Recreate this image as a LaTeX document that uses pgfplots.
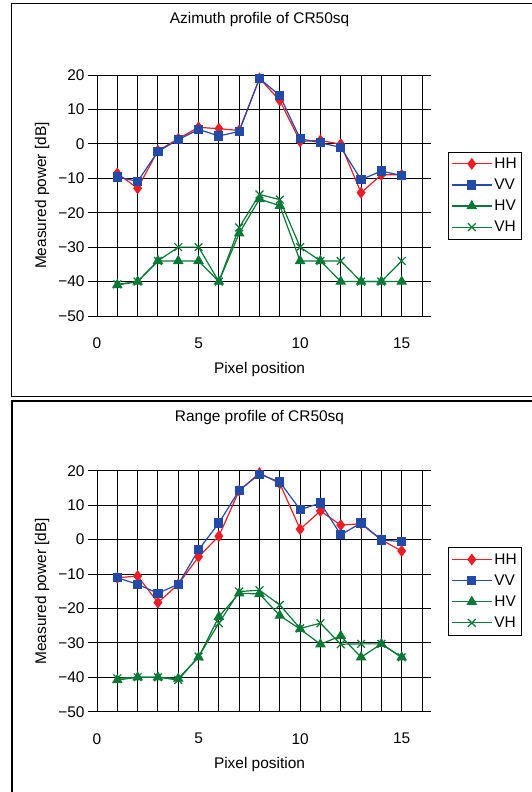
\documentclass[border=0pt]{standalone}
\usepackage{fontspec}
\setmainfont{Liberation Sans}
\usepackage{pgfplots}
\pgfplotsset{compat=1.18}

\definecolor{cHH}{RGB}{235,30,40}
\definecolor{cVV}{RGB}{35,75,165}
\definecolor{cHV}{RGB}{10,120,55}
\newcommand\fsz{\fontsize{15.5}{17.5}\selectfont}

\pgfplotsset{
  panel/.style={
    scale only axis, width=325bp, height=241bp,
    xmin=0, xmax=16, ymin=-50, ymax=20,
    xtick={0,5,10,15}, xticklabels={0,5,10,15},
    minor xtick={0,...,16},
    ytick={-50,-40,...,20},
    yticklabels={−50,−40,−30,−20,−10,0,10,20},
    grid=both,
    major grid style={black, line width=0.9bp},
    minor grid style={black, line width=0.9bp},
    axis line style={black, line width=0.9bp},
    tick align=outside, major tick length=9bp,
    ytick style={black, line width=0.9bp},
    xtick style={draw=none},
    tick label style={font=\fsz},
    xticklabel style={yshift=-9bp},
    label style={font=\fsz},
    title style={font=\fsz, anchor=center},
    xlabel={Pixel position},
    ylabel={Measured power [dB]},
    xlabel style={at={(axis description cs:0.5,-0.224)}, anchor=center},
    ylabel style={at={(axis description cs:-0.169,0.5)}, anchor=center},
    legend style={at={(1.08,0.5)}, anchor=west, draw=black, font=\fsz,
      row sep=5bp, inner xsep=3bp, inner ysep=4bp, cells={anchor=west}},
    legend image code/.code={\draw[mark repeat=2,mark phase=2] plot coordinates {(0bp,0bp) (20bp,0bp) (40bp,0bp)};},
  },
  sHH/.style={color=cHH, line width=1.2bp, mark=diamond*, mark size=5bp, mark options={solid}},
  sVV/.style={color=cVV, line width=1.2bp, mark=square*, mark size=4bp, mark options={solid}},
  sHV/.style={color=cHV, line width=1.2bp, mark=triangle*, mark size=5bp, mark options={solid}},
  sVH/.style={color=cHV, line width=1.2bp, mark=x, mark size=5.5bp, mark options={solid}},
}

\begin{document}
\begin{tikzpicture}
\useasboundingbox (0,0) rectangle (532bp,792bp);
\clip (0,0) rectangle (532bp,792bp);
\draw[line width=1.5bp] (11.5bp,788.5bp) rectangle (545bp,395.5bp);
\draw[line width=1.5bp] (12bp,391bp) rectangle (545bp,-10bp);

\begin{axis}[panel, at={(97bp,476bp)}, anchor=south west,
  title={Azimuth profile of CR50sq}, title style={at={(axis description cs:0.5,1.2075)}}]
\addplot[sHH] coordinates {(1,-8.6) (2,-12.9) (3,-2.0) (4,1.5) (5,4.8) (6,4.4) (7,3.9) (8,19.0) (9,12.6) (10,0.7) (11,1.0) (12,-0.1) (13,-14.2) (14,-9.0) (15,-9.0)};
\addlegendentry{HH}
\addplot[sVV] coordinates {(1,-9.6) (2,-10.9) (3,-2.2) (4,1.2) (5,4.2) (6,2.3) (7,3.6) (8,19.0) (9,14.0) (10,1.5) (11,0.3) (12,-1.0) (13,-10.4) (14,-7.9) (15,-9.2)};
\addlegendentry{VV}
\addplot[sHV] coordinates {(1,-41) (2,-40) (3,-34) (4,-34) (5,-34) (6,-40) (7,-26) (8,-16) (9,-18) (10,-34) (11,-34) (12,-40) (13,-40) (14,-40) (15,-40)};
\addlegendentry{HV}
\addplot[sVH] coordinates {(1,-40.8) (2,-40) (3,-34) (4,-30) (5,-30) (6,-40) (7,-24.3) (8,-14.7) (9,-16.2) (10,-30) (11,-34) (12,-34) (13,-40) (14,-40) (15,-34)};
\addlegendentry{VH}
\end{axis}

\begin{axis}[panel, at={(97bp,80.3bp)}, anchor=south west,
  title={Range profile of CR50sq}, title style={at={(axis description cs:0.5,1.198)}},
  xlabel style={at={(axis description cs:0.5,-0.221)}}]
\addplot[sHH] coordinates {(1,-11.1) (2,-10.6) (3,-18.3) (4,-13.0) (5,-5.0) (6,1.0) (7,14.2) (8,19.3) (9,16.3) (10,3.0) (11,8.3) (12,4.2) (13,4.6) (14,-0.1) (15,-3.3)};
\addlegendentry{HH}
\addplot[sVV] coordinates {(1,-11.1) (2,-13.0) (3,-15.6) (4,-13.0) (5,-3.0) (6,4.8) (7,14.3) (8,19.0) (9,16.7) (10,8.7) (11,10.6) (12,1.4) (13,4.8) (14,-0.1) (15,-0.6)};
\addlegendentry{VV}
\addplot[sHV] coordinates {(1,-40.8) (2,-40) (3,-40) (4,-40.4) (5,-34.2) (6,-22.4) (7,-15.6) (8,-15.8) (9,-22.1) (10,-26.0) (11,-30.4) (12,-28.0) (13,-34.2) (14,-30.3) (15,-34.2)};
\addlegendentry{HV}
\addplot[sVH] coordinates {(1,-40.3) (2,-40) (3,-40) (4,-40.8) (5,-34) (6,-24.3) (7,-15.1) (8,-14.7) (9,-19.0) (10,-25.8) (11,-24.3) (12,-30.4) (13,-30.3) (14,-30.3) (15,-34.2)};
\addlegendentry{VH}
\end{axis}
\end{tikzpicture}
\end{document}
